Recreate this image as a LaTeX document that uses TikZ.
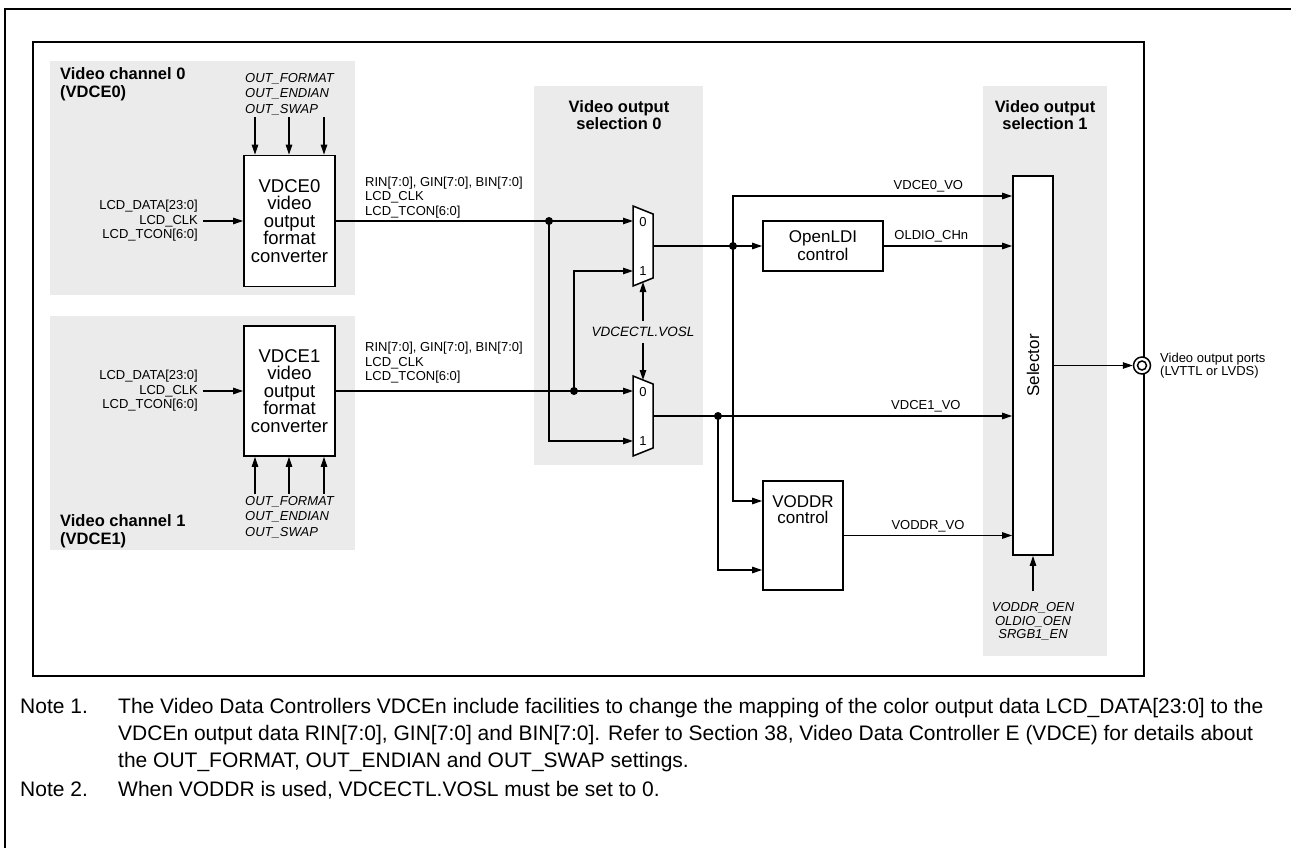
\documentclass[tikz,border=0pt]{standalone}
\usepackage{fontspec}
\setmainfont{Liberation Sans}
\usetikzlibrary{arrows.meta,positioning,calc}
\definecolor{panel}{RGB}{235,235,235}

\begin{document}
\begin{tikzpicture}[x=1pt,y=-1pt,
    sig/.style={line width=1.2pt,-{Triangle[length=10pt,width=6.5pt]}},
    blk/.style={draw,line width=1.8pt,fill=white,align=center,inner sep=0pt,
      font=\fontsize{18.5}{17.5}\selectfont},
    lbl/.style={inner sep=2pt,font=\fontsize{13}{14.5}\selectfont},
    reg/.style={inner sep=2pt,align=left,font=\fontsize{13}{15.5}\selectfont\itshape},
    ttl/.style={inner sep=0pt,font=\fontsize{16.5}{17.5}\selectfont\bfseries},
    wlbl/.style={lbl,above,inner sep=3pt},
    dot/.style={fill,circle,inner sep=0pt,minimum size=8pt},
    note/.style={inner sep=0pt,anchor=base west,align=left,font=\fontsize{21}{27}\selectfont}]
  \useasboundingbox (0,0) rectangle (1291,848);

  % panels
  \fill[panel] (50,61) rectangle (355,295);
  \fill[panel] (50,316) rectangle (355,550);
  \fill[panel] (534,86) rectangle (703,465);
  \fill[panel] (983,86) rectangle (1107,656);
  \draw[line width=2.5pt] (1291,9) -- (5,9) -- (5,848);
  \draw[line width=2pt] (33,42) rectangle (1144,676);

  \node[ttl,anchor=west,align=left] (ch0) at (60,84) {Video channel 0\\(VDCE0)};
  \node[ttl,anchor=west,align=left] (ch1) at (60,531) {Video channel 1\\(VDCE1)};
  \node[ttl,align=center] (sel0) at (619,115) {Video output\\selection 0};
  \node[ttl,align=center] (sel1) at (1045,115) {Video output\\selection 1};

  % format converters
  \node[blk,minimum width=91pt,minimum height=131pt] (vdce0) at (289.5,221)
    {VDCE0\\video\\output\\format\\converter};
  \node[blk,minimum width=91pt,minimum height=130pt] (vdce1) at (289.5,391)
    {VDCE1\\video\\output\\format\\converter};
  \node[lbl,align=right,anchor=east,inner xsep=5pt] (lcd0) at (203,221)
    {LCD\_DATA[23:0]\\LCD\_CLK\\LCD\_TCON[6:0]};
  \node[lbl,align=right,anchor=east,inner xsep=5pt] (lcd1) at (203,391)
    {LCD\_DATA[23:0]\\LCD\_CLK\\LCD\_TCON[6:0]};
  \draw[sig] (lcd0.east) -- (vdce0.west);
  \draw[sig] (lcd1.east) -- (vdce1.west);
  \node[reg,anchor=west] (fmt0) at (243,94) {OUT\_FORMAT\\OUT\_ENDIAN\\OUT\_SWAP};
  \node[reg,anchor=west] (fmt1) at (243,517) {OUT\_FORMAT\\OUT\_ENDIAN\\OUT\_SWAP};
  \foreach \x in {255,289,324} {
    \draw[sig] (fmt0.south -| \x,0) -- (vdce0.north -| \x,0);
    \draw[sig] (fmt1.north -| \x,0) -- (vdce1.south -| \x,0);
  }

  % selection 0
  \foreach \m/\cy in {0/246,1/416} {
    \draw[line width=1.5pt,fill=white] (633,\cy-40) -- (653,\cy-32) -- (653,\cy+32)
      -- (633,\cy+40) -- cycle;
    \node[lbl] at (643,\cy-24) {0};
    \node[lbl] at (643,\cy+25) {1};
    \coordinate (mux\m a) at (633,\cy-25);
    \coordinate (mux\m b) at (633,\cy+25);
    \coordinate (mux\m y) at (653,\cy);
    \coordinate (mux\m t) at (643,\cy-36);
    \coordinate (mux\m u) at (643,\cy+36);
  }
  \node[lbl,align=left,anchor=west] (bus0) at (363,197.5)
    {RIN[7:0], GIN[7:0], BIN[7:0]\\LCD\_CLK\\LCD\_TCON[6:0]};
  \node[lbl,align=left,anchor=west] (bus1) at (363,363)
    {RIN[7:0], GIN[7:0], BIN[7:0]\\LCD\_CLK\\LCD\_TCON[6:0]};
  \draw[sig] (vdce0.east) -- (mux0a);
  \draw[sig] (vdce1.east) -- (mux1a);
  \node[dot] (j0) at (549,221) {};
  \node[dot] (j1) at (574,391) {};
  \draw[sig] (j0.center) |- (mux1b);
  \draw[sig] (j1.center) |- (mux0b);
  \node[reg,align=center,inner ysep=6pt,font=\fontsize{13.5}{15}\selectfont\itshape] (vosl)
    at (643,332) {VDCECTL.VOSL};
  \draw[sig] (vosl.north) -- (mux0u);
  \draw[sig] (vosl.south) -- (mux1t);

  % outputs
  \node[blk,font=\fontsize{17}{18}\selectfont,minimum width=120pt,minimum height=50pt]
    (oldi) at (823,246) {OpenLDI\\control};
  \node[blk,minimum width=80pt,minimum height=109pt] (voddr) at (803,535.5) {};
  \node[inner sep=0pt,anchor=north,align=center,font=\fontsize{17}{16}\selectfont]
    (voddrtxt) at (803,495) {VODDR\\control};
  \node[blk,minimum width=40pt,minimum height=379pt] (sel) at (1033,365.5) {};
  \node[rotate=90,inner sep=0pt,font=\fontsize{17}{17}\selectfont] (seltxt) at (sel.center) {Selector};
  \node[dot] (j2) at (733,246) {};
  \node[dot] (j3) at (718,416) {};
  \draw[sig] (mux0y) -- (oldi.west);
  \draw[sig] (j2.center) |- (sel.west |- 0,196) node[wlbl,pos=0.85] {VDCE0\_VO};
  \draw[sig] (oldi.east) -- (sel.west |- oldi.east) node[wlbl,pos=0.37] {OLDIO\_CHn};
  \draw[sig] (j2.center) |- (voddr.west |- 0,501);
  \draw[sig] (mux1y) -- (sel.west |- mux1y) node[wlbl,pos=0.76] {VDCE1\_VO};
  \draw[sig] (j3.center) |- (voddr.west |- 0,570);
  \draw[sig] (voddr.east) -- (sel.west |- voddr.east) node[wlbl,midway] {VODDR\_VO};
  \node[reg,align=center,inner ysep=11pt,font=\fontsize{13}{13.5}\selectfont\itshape] (oen)
    at (1033,621.5) {VODDR\_OEN\\OLDIO\_OEN\\SRGB1\_EN};
  \draw[sig] (oen.north) -- (sel.south);
  \node[circle,draw,line width=1.5pt,fill=white,minimum size=17pt,inner sep=0pt] (port)
    at (1142,365.5) {};
  \draw[line width=1.5pt] (port.center) circle (4.5pt);
  \draw[sig] (sel.east) -- (port.west);
  \node[lbl,align=left,anchor=west,font=\fontsize{13}{12}\selectfont] (portlbl) at (1158,366)
    {Video output ports\\(LVTTL or LVDS)};

  % notes
  \node[note] (n1) at (20,713.5) {Note 1.};
  \node[note] (n1ln1) at (118,713.5)
    {The Video Data Controllers VDCEn include facilities to change the mapping of the color output data LCD\_DATA[23:0] to the};
  \node[note] (n1ln2) at (118,740.5)
    {VDCEn output data RIN[7:0], GIN[7:0] and BIN[7:0]. Refer to Section 38, Video Data Controller E (VDCE) for details about};
  \node[note] (n1ln3) at (118,767.5) {the OUT\_FORMAT, OUT\_ENDIAN and OUT\_SWAP settings.};
  \node[note] (n2) at (20,796.5) {Note 2.};
  \node[note] (n2txt) at (118,796.5) {When VODDR is used, VDCECTL.VOSL must be set to 0.};
\end{tikzpicture}
\end{document}
